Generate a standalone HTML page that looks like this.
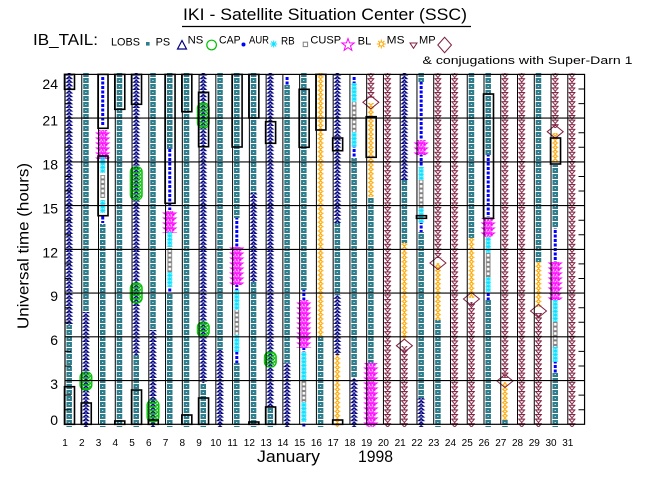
<!DOCTYPE html>
<html><head><meta charset="utf-8"><style>
html,body{margin:0;padding:0;background:#fff;}
svg{display:block;font-family:"Liberation Sans",Arial,sans-serif;}
</style></head><body>
<svg width="650" height="500" viewBox="0 0 650 500" xmlns="http://www.w3.org/2000/svg">
<defs>
<path id="star" d="M0,-6.5 L1.53,-2.1 L6.18,-2.01 L2.47,0.8 L3.82,5.26 L0,2.6 L-3.82,5.26 L-2.47,0.8 L-6.18,-2.01 L-1.53,-2.1 Z"/>
<pattern id="lobs" patternUnits="userSpaceOnUse" x="-2.75" y="0" width="5.5" height="6">
<rect width="5.5" height="5" fill="#2e7d8c"/><rect x="2.2" y="2" width="1" height="1" fill="#fff"/>
</pattern>
<pattern id="ps" patternUnits="userSpaceOnUse" x="-4" y="0" width="8" height="3.6">
<polygon points="4,0 0,3.6 8,3.6" fill="#000080"/><polygon points="4,1.9 3,3 5,3" fill="#fff"/>
</pattern>
<pattern id="aur" patternUnits="userSpaceOnUse" x="-2" y="0" width="4" height="4.5">
<rect x="0.5" y="0.5" width="3" height="3" fill="#0000ff"/>
</pattern>
<pattern id="rb" patternUnits="userSpaceOnUse" x="-3" y="0" width="6" height="3.6">
<path d="M0.3,1.8H5.7M3,0V3.6M0.8,0.2L5.2,3.4M5.2,0.2L0.8,3.4" stroke="#10e0ff" stroke-width="1" fill="none"/>
</pattern>
<pattern id="cusp" patternUnits="userSpaceOnUse" x="-2.5" y="0" width="5" height="4.6">
<rect x="0.7" y="0.5" width="3.6" height="3.6" fill="#fff" stroke="#808080" stroke-width="1"/>
</pattern>
<pattern id="bl" patternUnits="userSpaceOnUse" x="-7.5" y="0" width="15" height="5">
<g fill="none" stroke="#ff00ff" stroke-width="1">
<use href="#star" x="7.5" y="-5"/><use href="#star" x="7.5" y="0"/><use href="#star" x="7.5" y="5"/><use href="#star" x="7.5" y="10"/>
</g>
</pattern>
<pattern id="ns" patternUnits="userSpaceOnUse" x="-6" y="0" width="12" height="3.6">
<g fill="none" stroke="#00c000" stroke-width="1">
<ellipse cx="6" cy="-3.6" rx="5.3" ry="3.4"/><ellipse cx="6" cy="0" rx="5.3" ry="3.4"/><ellipse cx="6" cy="3.6" rx="5.3" ry="3.4"/><ellipse cx="6" cy="7.2" rx="5.3" ry="3.4"/>
</g>
</pattern>
<pattern id="ms" patternUnits="userSpaceOnUse" x="-3.5" y="0" width="7" height="4.4">
<path d="M3.5,0V4.4M0.5,2.2H6.5" stroke="#ffa800" stroke-width="1"/>
<circle cx="3.5" cy="2.2" r="1.4" fill="#fff" stroke="#ffa800" stroke-width="1"/>
</pattern>
<pattern id="mp" patternUnits="userSpaceOnUse" x="-3.5" y="0" width="7" height="4.6">
<path d="M0.6,0.5H6.4L3.5,3.9ZM3.5,3.9V4.6" fill="none" stroke="#802040" stroke-width="1"/>
</pattern>
</defs>

<rect width="650" height="500" fill="#fff"/>

<!-- Title -->
<text x="183" y="20" font-size="17" textLength="284" lengthAdjust="spacingAndGlyphs">IKI - Satellite Situation Center (SSC)</text>
<line x1="182" y1="26.5" x2="471" y2="26.5" stroke="#000" stroke-width="1.2"/>

<!-- Legend -->
<text x="33" y="45" font-size="16" textLength="65" lengthAdjust="spacingAndGlyphs">IB_TAIL:</text>
<g font-size="11">
<text x="111" y="45.5" textLength="29" lengthAdjust="spacingAndGlyphs">LOBS</text>
<text x="155.6" y="45.5" textLength="14.5" lengthAdjust="spacingAndGlyphs">PS</text>
<text x="187.6" y="43.5" textLength="15.7" lengthAdjust="spacingAndGlyphs">NS</text>
<text x="219" y="43.5" textLength="21.6" lengthAdjust="spacingAndGlyphs">CAP</text>
<text x="249" y="43.5" textLength="20" lengthAdjust="spacingAndGlyphs">AUR</text>
<text x="281" y="44.5" textLength="13.7" lengthAdjust="spacingAndGlyphs">RB</text>
<text x="310.4" y="43.5" textLength="30.7" lengthAdjust="spacingAndGlyphs">CUSP</text>
<text x="357.7" y="44.5" textLength="13.7" lengthAdjust="spacingAndGlyphs">BL</text>
<text x="386.7" y="43.5" textLength="17.8" lengthAdjust="spacingAndGlyphs">MS</text>
<text x="419" y="43.5" textLength="16.6" lengthAdjust="spacingAndGlyphs">MP</text>
<text x="422.5" y="64" textLength="210" lengthAdjust="spacingAndGlyphs">&amp; conjugations with Super-Darn 1</text>
</g>
<rect x="146" y="42" width="3.6" height="3.6" fill="#2e7d8c"/>
<polygon points="182,40.5 177.5,49 186.5,49" fill="none" stroke="#000080" stroke-width="1.2"/>
<circle cx="211.6" cy="45" r="4.8" fill="none" stroke="#00c000" stroke-width="1.2"/>
<circle cx="243.5" cy="44.5" r="2" fill="#0000ff"/>
<path d="M270.2,44H277.2M273.7,40.5V47.5M271.2,41.5L276.2,46.5M276.2,41.5L271.2,46.5" stroke="#10e0ff" stroke-width="1"/>
<rect x="303.2" y="42.2" width="4.4" height="4.4" fill="none" stroke="#808080" stroke-width="1"/>
<use href="#star" x="348" y="45" fill="none" stroke="#ff00ff" stroke-width="1"/>
<g stroke="#ffa800" stroke-width="1"><circle cx="381.3" cy="44" r="2" fill="none"/><path d="M376.8,44H379.3M383.3,44H385.8M381.3,39.5V42M381.3,46V48.5M378.2,40.9L379.8,42.5M384.4,40.9L382.8,42.5M378.2,47.1L379.8,45.5M384.4,47.1L382.8,45.5"/></g>
<polygon points="410,43 417,43 413.5,48.3" fill="none" stroke="#802040" stroke-width="1"/>
<polygon points="437.8,45 444.6,37.3 451.5,45 444.6,52.7" fill="none" stroke="#802040" stroke-width="1"/>

<!-- Columns -->
<g transform="translate(69.2,0)">
<rect x="-4" y="73" width="8" height="252" fill="url(#ps)"/>
<rect x="-2.75" y="325" width="5.5" height="102" fill="url(#lobs)"/>
</g>
<g transform="translate(85.96,0)">
<rect x="-2.75" y="73" width="5.5" height="239" fill="url(#lobs)"/>
<rect x="-4" y="312" width="8" height="115" fill="url(#ps)"/>
<rect x="-6" y="372" width="12" height="18" rx="5" fill="url(#ns)" stroke="#00c000"/>
</g>
<g transform="translate(102.72,0)">
<rect x="-2" y="76" width="4" height="49" fill="url(#aur)"/>
<rect x="-7.5" y="130" width="15" height="29" fill="url(#bl)"/>
<rect x="-3" y="157" width="6" height="16" fill="url(#rb)"/>
<rect x="-2.5" y="175" width="5" height="23" fill="url(#cusp)"/>
<rect x="-3" y="200" width="6" height="13" fill="url(#rb)"/>
<rect x="-2" y="215" width="4" height="8" fill="url(#aur)"/>
<rect x="-2.75" y="224" width="5.5" height="203" fill="url(#lobs)"/>
</g>
<g transform="translate(119.48,0)">
<rect x="-2.75" y="73" width="5.5" height="354" fill="url(#lobs)"/>
</g>
<g transform="translate(136.24,0)">
<rect x="-4" y="73" width="8" height="282" fill="url(#ps)"/>
<rect x="-6" y="166.7" width="12" height="33.3" rx="5" fill="url(#ns)" stroke="#00c000"/>
<rect x="-6" y="283" width="12" height="20" rx="5" fill="url(#ns)" stroke="#00c000"/>
<rect x="-2.75" y="355" width="5.5" height="72" fill="url(#lobs)"/>
</g>
<g transform="translate(153,0)">
<rect x="-2.75" y="73" width="5.5" height="257" fill="url(#lobs)"/>
<rect x="-4" y="330" width="8" height="97" fill="url(#ps)"/>
<rect x="-6" y="400" width="12" height="22" rx="5" fill="url(#ns)" stroke="#00c000"/>
</g>
<g transform="translate(169.76,0)">
<rect x="-2.75" y="73" width="5.5" height="76" fill="url(#lobs)"/>
<rect x="-2" y="149" width="4" height="61" fill="url(#aur)"/>
<rect x="-7.5" y="211" width="15" height="22" fill="url(#bl)"/>
<rect x="-3" y="232" width="6" height="15" fill="url(#rb)"/>
<rect x="-2.5" y="248" width="5" height="24" fill="url(#cusp)"/>
<rect x="-3" y="272" width="6" height="15" fill="url(#rb)"/>
<rect x="-2" y="287" width="4" height="6" fill="url(#aur)"/>
<rect x="-2.75" y="293" width="5.5" height="134" fill="url(#lobs)"/>
</g>
<g transform="translate(186.52,0)">
<rect x="-2.75" y="73" width="5.5" height="354" fill="url(#lobs)"/>
</g>
<g transform="translate(203.28,0)">
<rect x="-4" y="73" width="8" height="310" fill="url(#ps)"/>
<rect x="-6" y="103" width="12" height="25" rx="5" fill="url(#ns)" stroke="#00c000"/>
<rect x="-6" y="322" width="12" height="15" rx="5" fill="url(#ns)" stroke="#00c000"/>
<rect x="-2.75" y="383" width="5.5" height="44" fill="url(#lobs)"/>
</g>
<g transform="translate(220.04,0)">
<rect x="-2.75" y="73" width="5.5" height="277" fill="url(#lobs)"/>
<rect x="-4" y="350" width="8" height="77" fill="url(#ps)"/>
</g>
<g transform="translate(236.8,0)">
<rect x="-2.75" y="73" width="5.5" height="145" fill="url(#lobs)"/>
<rect x="-2" y="218" width="4" height="29" fill="url(#aur)"/>
<rect x="-7.5" y="247" width="15" height="38" fill="url(#bl)"/>
<rect x="-2" y="285" width="4" height="5" fill="url(#aur)"/>
<rect x="-3" y="290" width="6" height="20" fill="url(#rb)"/>
<rect x="-2.5" y="310" width="5" height="25" fill="url(#cusp)"/>
<rect x="-3" y="335" width="6" height="17" fill="url(#rb)"/>
<rect x="-2" y="352" width="4" height="11" fill="url(#aur)"/>
<rect x="-2.75" y="363" width="5.5" height="64" fill="url(#lobs)"/>
</g>
<g transform="translate(253.56,0)">
<rect x="-2.75" y="73" width="5.5" height="120" fill="url(#lobs)"/>
<rect x="-4" y="193" width="8" height="89" fill="url(#ps)"/>
<rect x="-2.75" y="282" width="5.5" height="145" fill="url(#lobs)"/>
</g>
<g transform="translate(270.32,0)">
<rect x="-4" y="73" width="8" height="334" fill="url(#ps)"/>
<rect x="-6" y="352" width="12" height="15" rx="5" fill="url(#ns)" stroke="#00c000"/>
<rect x="-2.75" y="407" width="5.5" height="20" fill="url(#lobs)"/>
</g>
<g transform="translate(287.08,0)">
<rect x="-2" y="76" width="4" height="9" fill="url(#aur)"/>
<rect x="-2.75" y="85" width="5.5" height="278" fill="url(#lobs)"/>
<rect x="-4" y="363" width="8" height="64" fill="url(#ps)"/>
</g>
<g transform="translate(303.84,0)">
<rect x="-2.75" y="73" width="5.5" height="217" fill="url(#lobs)"/>
<rect x="-2" y="290" width="4" height="10" fill="url(#aur)"/>
<rect x="-7.5" y="300" width="15" height="48" fill="url(#bl)"/>
<rect x="-2" y="348" width="4" height="4" fill="url(#aur)"/>
<rect x="-3" y="352" width="6" height="28" fill="url(#rb)"/>
<rect x="-2.5" y="380" width="5" height="22" fill="url(#cusp)"/>
<rect x="-3" y="402" width="6" height="20" fill="url(#rb)"/>
<rect x="-2" y="422" width="4" height="5" fill="url(#aur)"/>
</g>
<g transform="translate(320.6,0)">
<rect x="-3.5" y="73" width="7" height="264" fill="url(#ms)"/>
<rect x="-2.75" y="337" width="5.5" height="90" fill="url(#lobs)"/>
</g>
<g transform="translate(337.36,0)">
<rect x="-4" y="73" width="8" height="150" fill="url(#ps)"/>
<rect x="-2.75" y="223" width="5.5" height="72" fill="url(#lobs)"/>
<rect x="-4" y="295" width="8" height="60" fill="url(#ps)"/>
<rect x="-3.5" y="355" width="7" height="72" fill="url(#ms)"/>
</g>
<g transform="translate(354.12,0)">
<rect x="-2" y="76" width="4" height="7" fill="url(#aur)"/>
<rect x="-3" y="83" width="6" height="19" fill="url(#rb)"/>
<rect x="-2.5" y="102" width="5" height="30" fill="url(#cusp)"/>
<rect x="-3" y="132" width="6" height="15" fill="url(#rb)"/>
<rect x="-2" y="147" width="4" height="11" fill="url(#aur)"/>
<rect x="-2.75" y="158" width="5.5" height="220" fill="url(#lobs)"/>
<rect x="-4" y="378" width="8" height="49" fill="url(#ps)"/>
</g>
<g transform="translate(370.88,0)">
<rect x="-3.5" y="73" width="7" height="25" fill="url(#mp)"/>
<rect x="-3.5" y="103" width="7" height="94" fill="url(#ms)"/>
<rect x="-2.75" y="198" width="5.5" height="165" fill="url(#lobs)"/>
<rect x="-7.5" y="363" width="15" height="64" fill="url(#bl)"/>
</g>
<g transform="translate(387.64,0)">
<rect x="-3.5" y="73" width="7" height="354" fill="url(#mp)"/>
</g>
<g transform="translate(404.4,0)">
<rect x="-4" y="73" width="8" height="107" fill="url(#ps)"/>
<rect x="-2.75" y="180" width="5.5" height="63" fill="url(#lobs)"/>
<rect x="-3.5" y="243" width="7" height="97" fill="url(#ms)"/>
<rect x="-3.5" y="346" width="7" height="81" fill="url(#mp)"/>
</g>
<g transform="translate(421.16,0)">
<rect x="-2.75" y="73" width="5.5" height="9" fill="url(#lobs)"/>
<rect x="-2" y="82" width="4" height="58" fill="url(#aur)"/>
<rect x="-7.5" y="140" width="15" height="15" fill="url(#bl)"/>
<rect x="-2" y="155" width="4" height="12" fill="url(#aur)"/>
<rect x="-3" y="167" width="6" height="13" fill="url(#rb)"/>
<rect x="-2.5" y="180" width="5" height="28" fill="url(#cusp)"/>
<rect x="-3" y="208" width="6" height="15" fill="url(#rb)"/>
<rect x="-2" y="223" width="4" height="9" fill="url(#aur)"/>
<rect x="-2.75" y="232" width="5.5" height="166" fill="url(#lobs)"/>
<rect x="-4" y="398" width="8" height="29" fill="url(#ps)"/>
</g>
<g transform="translate(437.92,0)">
<rect x="-3.5" y="73" width="7" height="185" fill="url(#mp)"/>
<rect x="-3.5" y="263" width="7" height="57" fill="url(#ms)"/>
<rect x="-2.75" y="320" width="5.5" height="107" fill="url(#lobs)"/>
</g>
<g transform="translate(454.68,0)">
<rect x="-3.5" y="73" width="7" height="354" fill="url(#mp)"/>
</g>
<g transform="translate(471.44,0)">
<rect x="-2.75" y="73" width="5.5" height="165" fill="url(#lobs)"/>
<rect x="-3.5" y="238" width="7" height="60" fill="url(#ms)"/>
<rect x="-3.5" y="302" width="7" height="125" fill="url(#mp)"/>
</g>
<g transform="translate(488.2,0)">
<rect x="-2.75" y="73" width="5.5" height="82" fill="url(#lobs)"/>
<rect x="-2" y="155" width="4" height="62" fill="url(#aur)"/>
<rect x="-7.5" y="218" width="15" height="19" fill="url(#bl)"/>
<rect x="-3" y="237" width="6" height="16" fill="url(#rb)"/>
<rect x="-2.5" y="253" width="5" height="24" fill="url(#cusp)"/>
<rect x="-3" y="277" width="6" height="15" fill="url(#rb)"/>
<rect x="-2" y="292" width="4" height="8" fill="url(#aur)"/>
<rect x="-2.75" y="300" width="5.5" height="127" fill="url(#lobs)"/>
</g>
<g transform="translate(504.96,0)">
<rect x="-3.5" y="73" width="7" height="305" fill="url(#mp)"/>
<rect x="-3.5" y="382" width="7" height="38" fill="url(#ms)"/>
<rect x="-2.75" y="420" width="5.5" height="7" fill="url(#lobs)"/>
</g>
<g transform="translate(521.72,0)">
<rect x="-3.5" y="73" width="7" height="354" fill="url(#mp)"/>
</g>
<g transform="translate(538.48,0)">
<rect x="-2.75" y="73" width="5.5" height="189" fill="url(#lobs)"/>
<rect x="-3.5" y="262" width="7" height="45" fill="url(#ms)"/>
<rect x="-3.5" y="313" width="7" height="114" fill="url(#mp)"/>
</g>
<g transform="translate(555.24,0)">
<rect x="-3.5" y="73" width="7" height="55" fill="url(#mp)"/>
<rect x="-3.5" y="133" width="7" height="29" fill="url(#ms)"/>
<rect x="-2.75" y="165" width="5.5" height="63" fill="url(#lobs)"/>
<rect x="-2" y="228" width="4" height="34" fill="url(#aur)"/>
<rect x="-7.5" y="262" width="15" height="38" fill="url(#bl)"/>
<rect x="-3" y="300" width="6" height="22" fill="url(#rb)"/>
<rect x="-2.5" y="322" width="5" height="25" fill="url(#cusp)"/>
<rect x="-3" y="347" width="6" height="15" fill="url(#rb)"/>
<rect x="-2" y="362" width="4" height="11" fill="url(#aur)"/>
<rect x="-2.75" y="373" width="5.5" height="54" fill="url(#lobs)"/>
</g>
<g transform="translate(572,0)">
<rect x="-3.5" y="73" width="7" height="354" fill="url(#mp)"/>
</g>

<!-- Diamonds (MP conjugations) -->
<g fill="none" stroke="#802040" stroke-width="1">
<polygon transform="translate(370.88,102.3)" points="-8,0 0,-6.5 8,0 0,6.5"/>
<polygon transform="translate(404.4,345.7)" points="-8,0 0,-6.5 8,0 0,6.5"/>
<polygon transform="translate(437.92,263)" points="-8,0 0,-6.5 8,0 0,6.5"/>
<polygon transform="translate(471.44,299)" points="-8,0 0,-6.5 8,0 0,6.5"/>
<polygon transform="translate(504.96,381)" points="-8,0 0,-6.5 8,0 0,6.5"/>
<polygon transform="translate(538.48,311)" points="-8,0 0,-6.5 8,0 0,6.5"/>
<polygon transform="translate(555.24,131.7)" points="-8,0 0,-6.5 8,0 0,6.5"/>
</g>

<!-- Grid -->
<path stroke="#000" stroke-width="1.1" fill="none" d="M65,118.1H584.56M65,161.9H584.56M65,205.6H584.56M65,249.4H584.56M65,293.1H584.56M65,336.8H584.56M65,380.6H584.56"/>
<path stroke="#000" stroke-width="1" fill="none" d="M81.76,74.4V424.3M98.52,74.4V424.3M115.28,74.4V424.3M132.04,74.4V424.3M148.8,74.4V424.3M165.56,74.4V424.3M182.32,74.4V424.3M199.08,74.4V424.3M215.84,74.4V424.3M232.6,74.4V424.3M249.36,74.4V424.3M266.12,74.4V424.3M282.88,74.4V424.3M299.64,74.4V424.3M316.4,74.4V424.3M333.16,74.4V424.3M349.92,74.4V424.3M366.68,74.4V424.3M383.44,74.4V424.3M400.2,74.4V424.3M416.96,74.4V424.3M433.72,74.4V424.3M450.48,74.4V424.3M467.24,74.4V424.3M484,74.4V424.3M500.76,74.4V424.3M517.52,74.4V424.3M534.28,74.4V424.3M551.04,74.4V424.3M567.8,74.4V424.3"/>
<path stroke="#000" stroke-width="1" fill="none" d="M578.5,409.7H584.56M578.5,395.1H584.56M578.5,366H584.56M578.5,351.4H584.56M578.5,322.2H584.56M578.5,307.7H584.56M578.5,278.5H584.56M578.5,263.9H584.56M578.5,234.8H584.56M578.5,220.2H584.56M578.5,191H584.56M578.5,176.5H584.56M578.5,147.3H584.56M578.5,132.7H584.56M578.5,103.6H584.56M578.5,89H584.56M65,409.7H71M65,395.1H71M65,366H71M65,351.4H71M65,322.2H71M65,307.7H71M65,278.5H71M65,263.9H71M65,234.8H71M65,220.2H71M65,191H71M65,176.5H71M65,147.3H71M65,132.7H71M65,103.6H71M65,89H71"/>

<!-- Boxes -->
<g fill="none" stroke="#000" stroke-width="1.6">
<rect x="64.5" y="74.4" width="10" height="14.9"/>
<rect x="64.5" y="386.7" width="10" height="37.6"/>
<rect x="81.26" y="403" width="10" height="21.3"/>
<rect x="98.02" y="74.4" width="10" height="53.9"/>
<rect x="98.02" y="156" width="10" height="59.7"/>
<rect x="114.78" y="74.4" width="10" height="34.9"/>
<rect x="114.78" y="421" width="10" height="3.3"/>
<rect x="131.54" y="74.4" width="10" height="29.9"/>
<rect x="131.54" y="390" width="10" height="34.3"/>
<rect x="148.3" y="420" width="10" height="4.3"/>
<rect x="165.06" y="74.4" width="10" height="128.9"/>
<rect x="181.82" y="74.4" width="10" height="37.3"/>
<rect x="181.82" y="415" width="10" height="9.3"/>
<rect x="198.58" y="92.3" width="10" height="54.4"/>
<rect x="198.58" y="398" width="10" height="26.3"/>
<rect x="232.1" y="74.4" width="10" height="72.6"/>
<rect x="248.86" y="74.4" width="10" height="43.6"/>
<rect x="248.86" y="422" width="10" height="2.3"/>
<rect x="265.62" y="121.7" width="10" height="21.6"/>
<rect x="265.62" y="407" width="10" height="17.3"/>
<rect x="299.14" y="89.3" width="10" height="58"/>
<rect x="315.9" y="74.4" width="10" height="55.6"/>
<rect x="332.66" y="138" width="10" height="12.7"/>
<rect x="332.66" y="420" width="10" height="4.3"/>
<rect x="366.18" y="116.7" width="10" height="40.6"/>
<rect x="416.46" y="215.7" width="10" height="2.6"/>
<rect x="483.5" y="94" width="10" height="124.3"/>
<rect x="550.54" y="138" width="10" height="26"/>
</g>

<!-- Frame -->
<rect x="65" y="74.4" width="519.56" height="349.9" fill="none" stroke="#000" stroke-width="1.2"/>

<!-- Y axis labels -->
<g font-size="14" text-anchor="end">
<text x="58" y="89">24</text>
<text x="58" y="125.5">21</text>
<text x="58" y="169.5">18</text>
<text x="58" y="213.5">15</text>
<text x="58" y="257.5">12</text>
<text x="58" y="301">9</text>
<text x="58" y="345">6</text>
<text x="58" y="389">3</text>
<text x="58" y="425">0</text>
</g>
<text transform="translate(28.3,246) rotate(-90)" font-size="16" text-anchor="middle" textLength="166" lengthAdjust="spacingAndGlyphs">Universal time (hours)</text>

<!-- X axis labels -->
<g font-size="10" text-anchor="middle">
<text x="65" y="446">1</text><text x="81.76" y="446">2</text><text x="98.52" y="446">3</text><text x="115.28" y="446">4</text><text x="132.04" y="446">5</text><text x="148.8" y="446">6</text><text x="165.56" y="446">7</text><text x="182.32" y="446">8</text><text x="199.08" y="446">9</text><text x="215.84" y="446">10</text><text x="232.6" y="446">11</text><text x="249.36" y="446">12</text><text x="266.12" y="446">13</text><text x="282.88" y="446">14</text><text x="299.64" y="446">15</text><text x="316.4" y="446">16</text><text x="333.16" y="446">17</text><text x="349.92" y="446">18</text><text x="366.68" y="446">19</text><text x="383.44" y="446">20</text><text x="400.2" y="446">21</text><text x="416.96" y="446">22</text><text x="433.72" y="446">23</text><text x="450.48" y="446">24</text><text x="467.24" y="446">25</text><text x="484" y="446">26</text><text x="500.76" y="446">27</text><text x="517.52" y="446">28</text><text x="534.28" y="446">29</text><text x="551.04" y="446">30</text><text x="567.8" y="446">31</text>
</g>
<text x="257" y="462" font-size="17" textLength="63" lengthAdjust="spacingAndGlyphs">January</text>
<text x="358" y="462" font-size="17" textLength="35" lengthAdjust="spacingAndGlyphs">1998</text>
</svg>
</body></html>
